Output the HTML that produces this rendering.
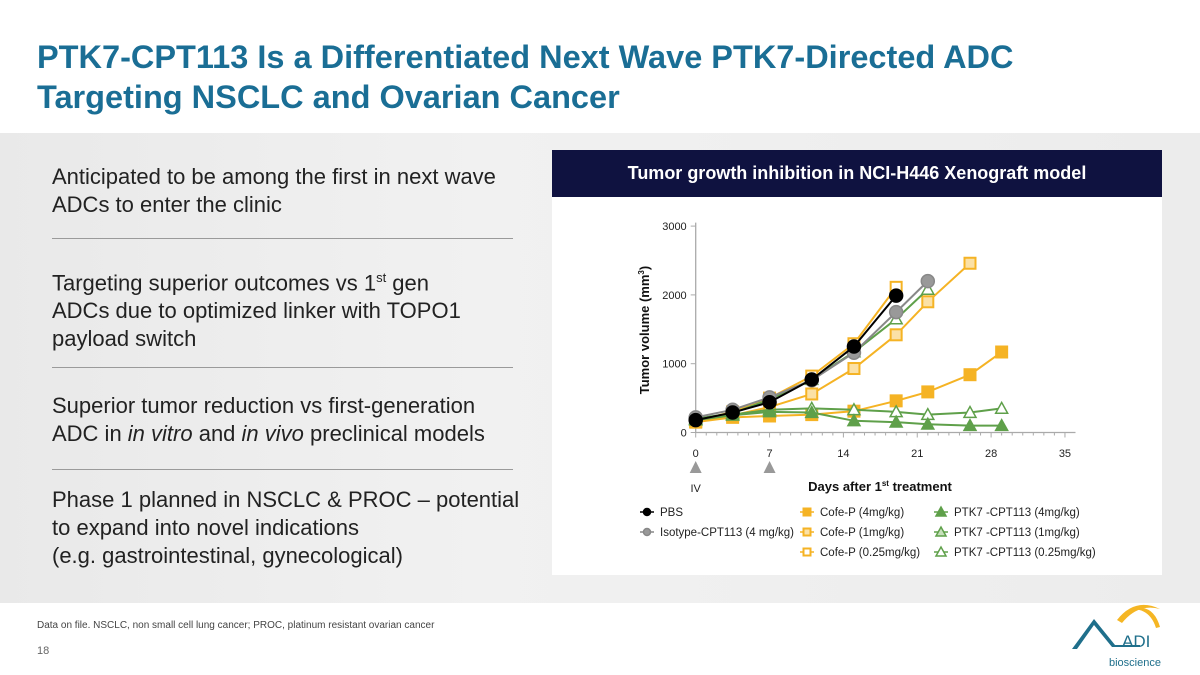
<!DOCTYPE html>
<html><head><meta charset="utf-8"><style>
body{margin:0;width:1200px;height:675px;position:relative;background:#fff;font-family:"Liberation Sans",sans-serif;overflow:hidden}
.abs{position:absolute}
h1{position:absolute;left:37px;top:37px;margin:0;font-size:32.5px;line-height:40px;color:#1a6e95;font-weight:bold}
.band{left:0;top:133px;width:1200px;height:470px;background:linear-gradient(90deg,#e9e9e9,#f1f1f1 40%,#ececec)}
.bul{left:52px;font-size:22px;line-height:28px;color:#222;width:500px;white-space:nowrap}
.hr{left:52px;width:461px;height:1px;background:#9a9a9a}
</style></head><body>
<h1>PTK7-CPT113 Is a Differentiated Next Wave PTK7-Directed ADC<br>Targeting NSCLC and Ovarian Cancer</h1>
<div class="abs band"></div>
<div class="abs bul" style="top:163px">Anticipated to be among the first in next wave<br>ADCs to enter the clinic</div>
<div class="abs hr" style="top:238px"></div>
<div class="abs bul" style="top:264px">Targeting superior outcomes vs 1<sup style="font-size:13px">st</sup> gen<br>ADCs due to optimized linker with TOPO1<br>payload switch</div>
<div class="abs hr" style="top:367px"></div>
<div class="abs bul" style="top:392px">Superior tumor reduction vs first-generation<br>ADC in <i>in vitro</i> and <i>in vivo</i> preclinical models</div>
<div class="abs hr" style="top:469px"></div>
<div class="abs bul" style="top:486px">Phase 1 planned in NSCLC &amp; PROC – potential<br>to expand into novel indications<br>(e.g. gastrointestinal, gynecological)</div>
<div class="abs" style="left:37px;top:620px;font-size:10px;color:#444">Data on file. NSCLC, non small cell lung cancer; PROC, platinum resistant ovarian cancer</div>
<div class="abs" style="left:37px;top:645px;font-size:11px;color:#666">18</div>
<svg class="abs" style="left:1060px;top:595px" width="140" height="80">
<path d="M57 25 Q75 2 100 14 Q78 8 62 28Z" fill="#f5b624"/>
<path d="M72 14 Q93 8 100 32 L96 33 Q90 14 72 14Z" fill="#f5b624"/>
<path d="M12 54 L34 24 L55 50 L80 50 L80 52 L52 52 L34 30 L17 54Z" fill="#1f6f8b"/>
<text x="62" y="52" font-size="17" fill="#1f6f8b" font-family="Liberation Sans">ADI</text>
<text x="49" y="71" font-size="11" fill="#1f6f8b" font-family="Liberation Sans">bioscience</text>
</svg>
<div class="abs" style="left:552px;top:150px;width:610px;height:425px;background:#fff"></div>
<div class="abs" style="left:552px;top:150px;width:610px;height:47px;background:#0f1240;color:#fff;font-weight:bold;font-size:18px;line-height:47px;text-align:center">Tumor growth inhibition in NCI-H446 Xenograft model</div>
<svg id="chart" class="abs" style="left:0;top:0" width="1200" height="675"></svg>
<script>
const pbsDays=[0,3.5,7,11,15,19];
const pbsVals=[180,290,440,770,1250,1990];
const isoDays=[0,3.5,7,11,15,19,22];
const isoVals=[220,330,510,760,1160,1750,2200];
const cofe4Days=[0,3.5,7,11,15,19,22,26,29];
const cofe4Vals=[150,220,240,260,310,460,590,840,1170];
const cofe1Days=[0,3.5,7,11,15,19,22,26];
const cofe1Vals=[160,250,370,560,930,1420,1900,2460];
const cofe025Days=[0,3.5,7,11,15,19];
const cofe025Vals=[170,300,500,820,1290,2110];
const ptk4Days=[0,3.5,7,11,15,19,22,26,29];
const ptk4Vals=[180,250,300,290,170,150,120,100,100];
const ptk1Days=[0,3.5,7,11,15,19,22,26,29];
const ptk1Vals=[190,260,330,350,330,300,260,290,350];
const ptk025Days=[0,3.5,7,11,15,19,22];
const ptk025Vals=[200,280,480,770,1170,1650,2080];
const xTicks=[0,7,14,21,28,35];
const yTicks=[0,1000,2000,3000];
const NS='http://www.w3.org/2000/svg';
const svg=document.getElementById('chart');
const X=d=>695.7+d*10.55, Y=v=>432.5-v*0.0688;
function el(t,a,p){const e=document.createElementNS(NS,t);for(const k in a)e.setAttribute(k,a[k]);(p||svg).appendChild(e);return e;}
let ax=el('line',{x1:X(0),y1:Y(3050),x2:X(0),y2:Y(0),stroke:'#aaa','stroke-width':1.3});

let bx=el('line',{x1:X(0),y1:Y(0),x2:X(36),y2:Y(0),stroke:'#aaa','stroke-width':1.3});

for(let d=0;d<=35;d++){el('line',{x1:X(d),y1:Y(0),x2:X(d),y2:Y(0)+(d%7?3:5),stroke:'#aaa'});}
xTicks.forEach(t=>{const e=el('text',{x:X(t),y:457,'font-size':11,'text-anchor':'middle',fill:'#222','font-family':'Liberation Sans'});e.textContent=t;
});
yTicks.forEach(t=>{el('line',{x1:X(0)-5,y1:Y(t),x2:X(0),y2:Y(t),stroke:'#aaa'});const e=el('text',{x:X(0)-9,y:Y(t)+4,'font-size':11,'text-anchor':'end',fill:'#222','font-family':'Liberation Sans'});e.textContent=t;
});
let yt=el('text',{x:0,y:0,transform:'translate(649,330) rotate(-90)','font-size':13,'font-weight':'bold','text-anchor':'middle',fill:'#111','font-family':'Liberation Sans'});
yt.innerHTML='Tumor volume (mm<tspan dy="-5" font-size="8">3</tspan><tspan dy="5">)</tspan>';

let xt=el('text',{x:880,y:491,'font-size':13,'font-weight':'bold','text-anchor':'middle',fill:'#111','font-family':'Liberation Sans'});
xt.innerHTML='Days after 1<tspan dy="-5" font-size="8">st</tspan><tspan dy="5"> treatment</tspan>';

[0,7].forEach(d=>{const p=el('polygon',{points:`${X(d)-6},473 ${X(d)+6},473 ${X(d)},461`,fill:'#999'});});
let iv=el('text',{x:X(0),y:492,'font-size':11,'text-anchor':'middle',fill:'#222','font-family':'Liberation Sans'});iv.textContent='IV';

function marker(shape,x,y,c,fill,g,s){
 if(shape==='c')return el('circle',{cx:x,cy:y,r:s||6.5,fill:fill,stroke:c,'stroke-width':1.5},g);
 if(shape==='s')return el('rect',{x:x-(s||5.5),y:y-(s||5.5),width:2*(s||5.5),height:2*(s||5.5),fill:fill,stroke:c,'stroke-width':2},g);
 const r=s||6;return el('polygon',{points:`${x-r},${y+r*0.8} ${x+r},${y+r*0.8} ${x},${y-r}`,fill:fill,stroke:c,'stroke-width':1.5},g);
}
const series=[
 ['cofe-p-0.25',cofe025Days,cofe025Vals,'#f5b324','s','#fff'],
 ['cofe-p-1',cofe1Days,cofe1Vals,'#f5b324','s','#fbe1a6'],
 ['cofe-p-4',cofe4Days,cofe4Vals,'#f5b324','s','#f5b324'],
 ['ptk7-0.25',ptk025Days,ptk025Vals,'#5fa04a','t','#fff'],
 ['ptk7-1',ptk1Days,ptk1Vals,'#5fa04a','t','#fff'],
 ['ptk7-4',ptk4Days,ptk4Vals,'#5fa04a','t','#5fa04a'],
 ['isotype',isoDays,isoVals,'#888','c','#999'],
 ['pbs',pbsDays,pbsVals,'#000','c','#000']];
series.forEach(([n,ds,vs,c,sh,f])=>{
 const g=el('g',{});
 const pl=el('polyline',{points:ds.map((d,i)=>X(d)+','+Y(vs[i])).join(' '),fill:'none',stroke:c,'stroke-width':2},g);
 
 ds.forEach((d,i)=>{const m=marker(sh,X(d),Y(vs[i]),c,f,g);});
});
const legend=[
 ['PBS',640,512,'#000','c','#000'],['Isotype-CPT113 (4 mg/kg)',640,532,'#888','c','#999'],
 ['Cofe-P (4mg/kg)',800,512,'#f5b324','s','#f5b324'],['Cofe-P  (1mg/kg)',800,532,'#f5b324','s','#fbe1a6'],['Cofe-P (0.25mg/kg)',800,552,'#f5b324','s','#fff'],
 ['PTK7 -CPT113 (4mg/kg)',934,512,'#5fa04a','t','#5fa04a'],['PTK7 -CPT113 (1mg/kg)',934,532,'#5fa04a','t','#c6e0bb'],['PTK7 -CPT113 (0.25mg/kg)',934,552,'#5fa04a','t','#fff']];
legend.forEach(([t,x,y,c,sh,f])=>{
 const g=el('g',{});
 el('line',{x1:x,y1:y,x2:x+14,y2:y,stroke:c,'stroke-width':1.5},g);marker(sh,x+7,y,c,f,g,sh==='t'?5:3.5);
 const e=el('text',{x:x+20,y:y+4,'font-size':11.5,fill:'#222','font-family':'Liberation Sans'},g);e.textContent=t;});
</script>
</body></html>
